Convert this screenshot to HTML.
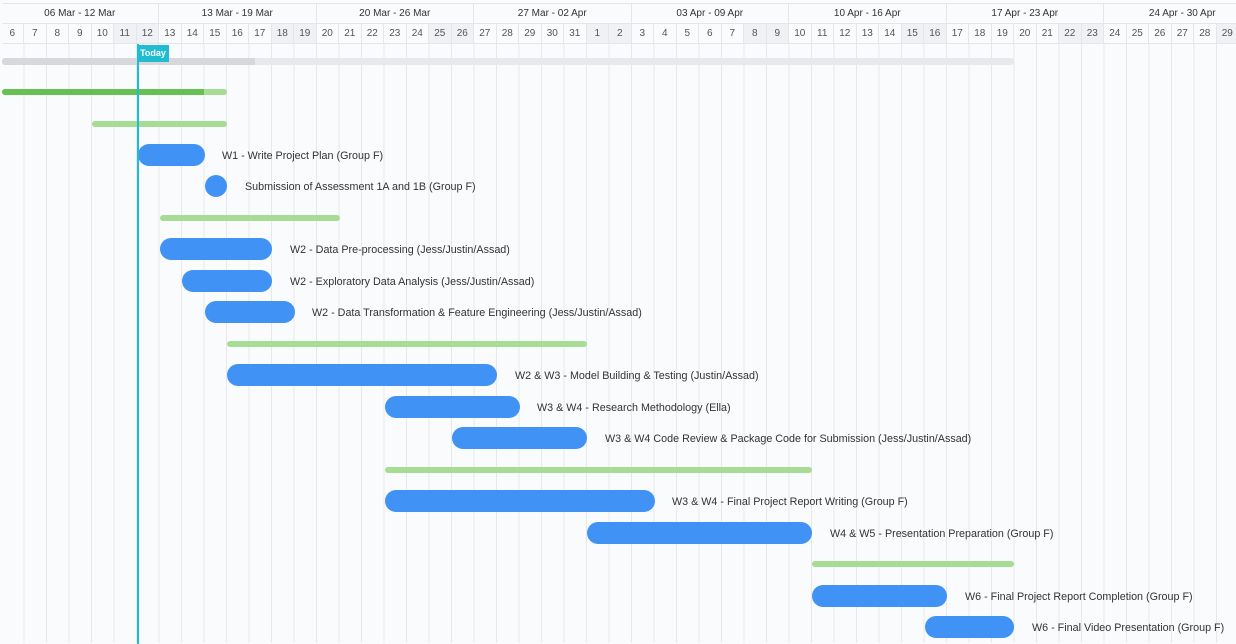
<!DOCTYPE html>
<html><head><meta charset="utf-8"><style>
*{margin:0;padding:0;box-sizing:border-box}
body{width:1236px;height:643px;overflow:hidden;background:#fafbfd;font-family:"Liberation Sans",sans-serif;position:relative}
.grid{position:absolute;left:1.5px;top:3px;width:1260px;height:640px;background:repeating-linear-gradient(90deg,transparent 0,transparent 21.5px,#e6e8ec 21.5px,#e6e8ec 22.5px)}
.wk{position:absolute;top:3px;height:21px;display:flex;left:1.5px;background:#fafbfd;border-bottom:1px solid #e4e6ea;border-top:1px solid #e4e6ea}
.wk div{width:157.5px;flex:none;text-align:center;font-size:10px;line-height:20px;color:#333;border-right:1px solid #e4e6ea}
.dy{position:absolute;top:24px;height:20px;left:1.5px;display:flex;border-bottom:1px solid #e4e6ea}
.dy div{width:22.5px;flex:none;text-align:center;font-size:10px;line-height:20px;color:#555;border-right:1px solid #e4e6ea;background:#fafbfd}
.dy div.w{background:#f0f1f4}
.b{position:absolute;border-radius:11px;background:#4192f5;height:22px}
.g{position:absolute;height:6px;border-radius:3px;background:#a6dc93}
.t{position:absolute;font-size:10.75px;color:#333;white-space:nowrap;line-height:14px}
</style></head><body>
<div class="grid"></div>
<div class="wk"><div>06 Mar - 12 Mar</div><div>13 Mar - 19 Mar</div><div>20 Mar - 26 Mar</div><div>27 Mar - 02 Apr</div><div>03 Apr - 09 Apr</div><div>10 Apr - 16 Apr</div><div>17 Apr - 23 Apr</div><div>24 Apr - 30 Apr</div></div>
<div class="dy"><div>6</div><div>7</div><div>8</div><div>9</div><div>10</div><div class="w">11</div><div class="w">12</div><div>13</div><div>14</div><div>15</div><div>16</div><div>17</div><div class="w">18</div><div class="w">19</div><div>20</div><div>21</div><div>22</div><div>23</div><div>24</div><div class="w">25</div><div class="w">26</div><div>27</div><div>28</div><div>29</div><div>30</div><div>31</div><div class="w">1</div><div class="w">2</div><div>3</div><div>4</div><div>5</div><div>6</div><div>7</div><div class="w">8</div><div class="w">9</div><div>10</div><div>11</div><div>12</div><div>13</div><div>14</div><div class="w">15</div><div class="w">16</div><div>17</div><div>18</div><div>19</div><div>20</div><div>21</div><div class="w">22</div><div class="w">23</div><div>24</div><div>25</div><div>26</div><div>27</div><div>28</div><div class="w">29</div><div class="w">30</div></div>

<div style="position:absolute;left:2px;top:58px;width:1012px;height:7px;border-radius:3px;background:#e8e9ec"></div>
<div style="position:absolute;left:2px;top:58px;width:253px;height:7px;border-radius:3px 0 0 3px;background:#d7d8db"></div>

<div class="g" style="left:2px;top:89px;width:225px"></div>
<div class="g" style="left:2px;top:89px;width:202px;background:#66c152;border-radius:3px 0 0 3px"></div>
<div class="g" style="left:92px;top:121px;width:135px"></div>

<div class="b" style="left:138px;top:144px;width:67px"></div><div class="t" style="left:222px;top:149px">W1 - Write Project Plan (Group F)</div>
<div class="b" style="left:205px;top:175px;width:22px"></div><div class="t" style="left:245px;top:180px">Submission of Assessment 1A and 1B (Group F)</div>
<div class="g" style="left:160px;top:215px;width:180px"></div>
<div class="b" style="left:160px;top:238px;width:112px"></div><div class="t" style="left:290px;top:243px">W2 - Data Pre-processing (Jess/Justin/Assad)</div>
<div class="b" style="left:182px;top:270px;width:90px"></div><div class="t" style="left:290px;top:275px">W2 - Exploratory Data Analysis (Jess/Justin/Assad)</div>
<div class="b" style="left:205px;top:301px;width:90px"></div><div class="t" style="left:312px;top:306px">W2 - Data Transformation &amp; Feature Engineering (Jess/Justin/Assad)</div>
<div class="g" style="left:227px;top:341px;width:360px"></div>
<div class="b" style="left:227px;top:364px;width:270px"></div><div class="t" style="left:515px;top:369px">W2 &amp; W3 - Model Building &amp; Testing (Justin/Assad)</div>
<div class="b" style="left:385px;top:396px;width:135px"></div><div class="t" style="left:537px;top:401px">W3 &amp; W4 - Research Methodology (Ella)</div>
<div class="b" style="left:452px;top:427px;width:135px"></div><div class="t" style="left:605px;top:432px">W3 &amp; W4 Code Review &amp; Package Code for Submission (Jess/Justin/Assad)</div>
<div class="g" style="left:385px;top:467px;width:427px"></div>
<div class="b" style="left:385px;top:490px;width:270px"></div><div class="t" style="left:672px;top:495px">W3 &amp; W4 - Final Project Report Writing (Group F)</div>
<div class="b" style="left:587px;top:522px;width:225px"></div><div class="t" style="left:830px;top:527px">W4 &amp; W5 - Presentation Preparation (Group F)</div>
<div class="g" style="left:812px;top:561px;width:202px"></div>
<div class="b" style="left:812px;top:585px;width:135px"></div><div class="t" style="left:965px;top:590px">W6 - Final Project Report Completion (Group F)</div>
<div class="b" style="left:925px;top:616px;width:89px"></div><div class="t" style="left:1032px;top:621px">W6 - Final Video Presentation (Group F)</div>

<div style="position:absolute;left:137px;top:44px;width:2px;height:600px;background:#1fbcd2"></div>
<div style="position:absolute;left:137px;top:45px;width:32px;height:17px;background:#1fbcd2;color:#fff;font-size:9px;font-weight:bold;line-height:17px;text-align:center">Today</div>
</body></html>
